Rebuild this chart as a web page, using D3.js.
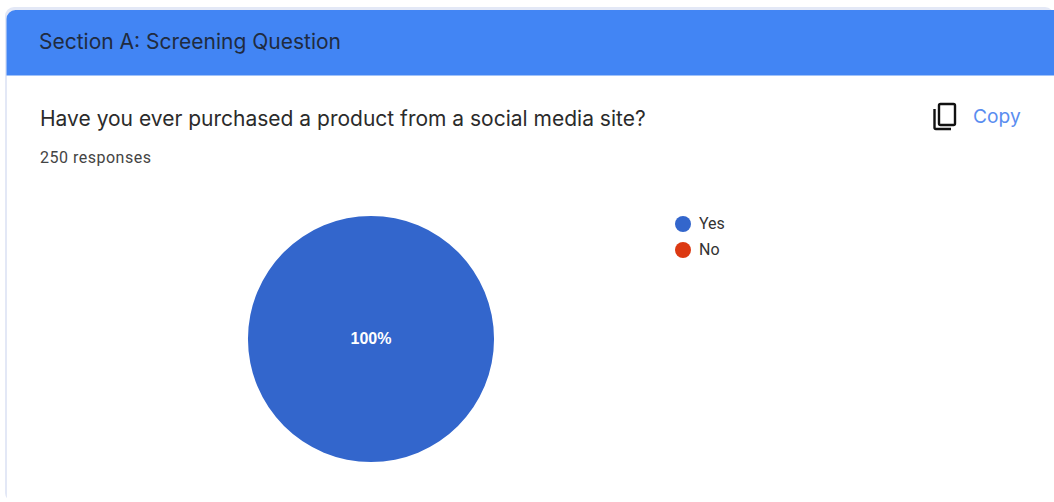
<!DOCTYPE html>
<html>
<head>
<meta charset="utf-8">
<script src="https://cdn.jsdelivr.net/npm/d3@7/dist/d3.min.js"></script>
<style>
html,body{margin:0;padding:0;background:#fff;overflow:hidden}
svg{display:block}
</style>
</head>
<body>
<svg id="chart" width="1054" height="502"></svg>
<script>
const categories = ["Yes", "No"];
const responses = [250, 0];
const sliceColors = ["#3366cc", "#dc3912"];
const sectionTitle = "Section A: Screening Question";
const questionText = "Have you ever purchased a product from a social media site?";
const responseNote = "250 responses";
const copyLabel = "Copy";

const svg = d3.select("#chart");
const uiFont = "Roboto, 'Noto Sans', sans-serif";
const total = d3.sum(responses);

// Card background and section header
svg.append("rect").attr("x", 5).attr("y", 7).attr("width", 1049).attr("height", 495).attr("rx", 9).attr("fill", "#e3e8f6");
svg.append("rect").attr("x", 7).attr("y", 70).attr("width", 1047).attr("height", 432).attr("fill", "#fff");
svg.append("path").attr("d", "M6.5 75.5V19a9 9 0 0 1 9-9H1054V75.5Z").attr("fill", "#4285f4");

svg.append("text").attr("x", 39).attr("y", 49).attr("font-family", "Inter, Roboto, sans-serif")
  .attr("font-size", 21).attr("fill", "#202b3f").text(sectionTitle);
svg.append("text").attr("x", 40).attr("y", 126).attr("font-family", "Inter, Roboto, sans-serif")
  .attr("font-size", 21).attr("fill", "#2b2b2b").text(questionText);
svg.append("text").attr("x", 40).attr("y", 163).attr("font-family", uiFont)
  .attr("font-size", 16).attr("letter-spacing", 0.5).attr("fill", "#444").text(responseNote);

// Copy control
const copyIcon = svg.append("g").attr("fill", "none").attr("stroke", "#111").attr("stroke-width", 2.4);
copyIcon.append("rect").attr("x", 939).attr("y", 104).attr("width", 16).attr("height", 21).attr("rx", 1.5);
copyIcon.append("path").attr("d", "M934.5 109V127.5a1.5 1.5 0 0 0 1.5 1.5H951");
svg.append("text").attr("x", 973).attr("y", 123).attr("font-family", "Inter, Roboto, sans-serif")
  .attr("font-size", 19.2).attr("fill", "#5a8df0").text(copyLabel);

// Pie
const pie = d3.pie().sort(null).value(d => d.value);
const pieData = pie(categories.map((name, i) => ({ name, value: responses[i] })));
const arc = d3.arc().innerRadius(0).outerRadius(123);
const color = d3.scaleOrdinal().domain(categories).range(sliceColors);
const pieGroup = svg.append("g").attr("transform", "translate(371,339)");
pieGroup.selectAll("path").data(pieData.filter(d => d.value > 0)).join("path")
  .attr("d", arc).attr("fill", d => color(d.data.name));
pieGroup.selectAll("text").data(pieData.filter(d => d.value > 0)).join("text")
  .attr("text-anchor", "middle").attr("y", 5)
  .attr("font-family", "Arial, 'Liberation Sans', sans-serif").attr("font-weight", 700)
  .attr("font-size", 16).attr("fill", "#fff")
  .text(d => d3.format(".0%")(d.data.value / total));

// Legend
const legendY = d3.scalePoint().domain(categories).range([224, 250]);
const legend = svg.append("g").selectAll("g").data(categories).join("g")
  .attr("transform", d => `translate(683,${legendY(d)})`);
legend.append("circle").attr("r", 8).attr("fill", d => color(d));
legend.append("text").attr("x", 16).attr("y", 5).attr("font-family", uiFont)
  .attr("font-size", 16).attr("fill", "#333").text(d => d);
</script>
</body>
</html>
